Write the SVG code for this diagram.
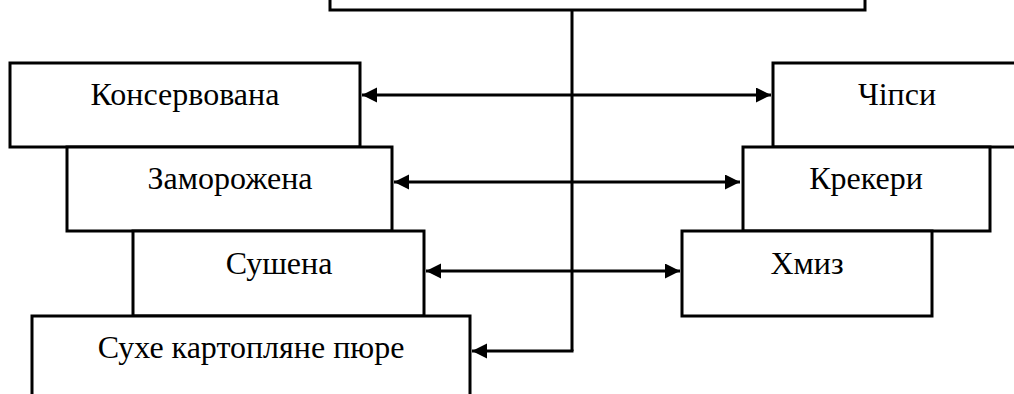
<svg xmlns="http://www.w3.org/2000/svg" width="1014" height="394" viewBox="0 0 1014 394">
<style>
.box{fill:#fff;stroke:#000;stroke-width:3}
.lbl{font-family:"Liberation Serif","Times New Roman",serif;font-size:32px;fill:#000;text-anchor:middle}
.con{fill:none;stroke:#000;stroke-width:3}
</style>
<defs>
<marker id="ah" markerUnits="userSpaceOnUse" markerWidth="16" markerHeight="16" refX="15" refY="7.5" orient="auto-start-reverse">
<path d="M0,0 L15,7.5 L0,15 Z" fill="#000"/>
</marker>
</defs>
<g id="node-top"><rect class="box" x="330" y="-20" width="535" height="30"/></g>
<g id="node-konservovana"><rect class="box" x="10" y="63" width="350" height="84"/><text class="lbl" x="185" y="105">Консервована</text></g>
<g id="node-zamorozhena"><rect class="box" x="67" y="147" width="325" height="84"/><text class="lbl" x="230" y="189">Заморожена</text></g>
<g id="node-sushena"><rect class="box" x="133" y="231" width="291" height="85"/><text class="lbl" x="279" y="274">Сушена</text></g>
<g id="node-pure"><rect class="box" x="32" y="316" width="438" height="100"/><text class="lbl" x="251" y="358">Сухе картопляне пюре</text></g>
<g id="node-chipsy"><rect class="box" x="773" y="63" width="260" height="84"/><text class="lbl" x="897" y="105">Чіпси</text></g>
<g id="node-krekery"><rect class="box" x="743" y="147" width="247" height="84"/><text class="lbl" x="866" y="189">Крекери</text></g>
<g id="node-khmyz"><rect class="box" x="682" y="231" width="250" height="85"/><text class="lbl" x="807" y="274">Хмиз</text></g>
<g id="connectors">
<path class="con" d="M572,10 V351"/>
<path class="con" d="M362,95 H771" marker-start="url(#ah)" marker-end="url(#ah)"/>
<path class="con" d="M394,182 H740" marker-start="url(#ah)" marker-end="url(#ah)"/>
<path class="con" d="M426,271 H680" marker-start="url(#ah)" marker-end="url(#ah)"/>
<path class="con" d="M573.5,351 H472" marker-end="url(#ah)"/>
</g>
</svg>
